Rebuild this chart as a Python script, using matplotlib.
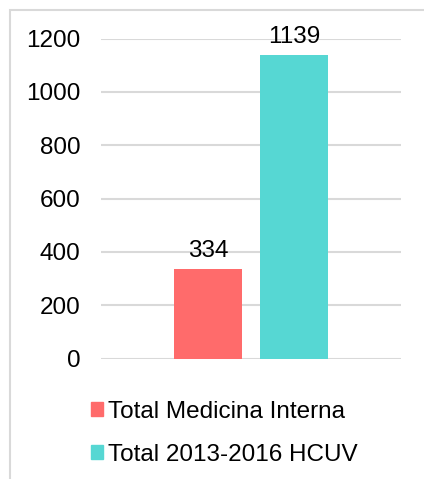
import matplotlib.pyplot as plt
from matplotlib.patches import Rectangle, Patch

plt.rcParams["font.family"] = ["Liberation Sans", "DejaVu Sans"]

SERIES = ["Total Medicina Interna", "Total 2013-2016 HCUV"]
VALUES = [334, 1139]
COLORS = ["#ff6b6b", "#56d7d3"]
YTICKS = [0, 200, 400, 600, 800, 1000, 1200]

W, H = 424, 479
FS = 17.5
fig = plt.figure(figsize=(W / 100, H / 100), dpi=100)

# light frame around the chart area (cut on right/bottom like the source)
fig.patches.append(Rectangle((9.5 / W, -0.05), 1.0, 1 - 9.5 / H + 0.05,
                             transform=fig.transFigure, fill=False,
                             edgecolor="#d9d9d9", linewidth=1.5))

ax = fig.add_axes([101 / W, 1 - 358.5 / H, 300 / W, 320 / H])
ax.set_xlim(-0.5, 0.5)
ax.set_ylim(0, 1200)

width = 68 / 300
offsets = [-0.1433, 0.1433]
for off, v, c, name in zip(offsets, VALUES, COLORS, SERIES):
    ax.bar(off, v, width=width, color=c, label=name, zorder=3)
    ax.annotate(str(v), (off, v), xytext=(0, 5), textcoords="offset points",
                ha="center", va="bottom", fontsize=FS, color="#000000",
                annotation_clip=False)

ax.set_yticks(YTICKS)
ax.set_xticks([])
ax.tick_params(axis="y", length=0, pad=15, labelsize=FS)
ax.yaxis.grid(True, color="#d9d9d9", linewidth=1.5, zorder=0)
for s in ax.spines.values():
    s.set_visible(False)

handles = [Patch(color=c, label=n) for c, n in zip(COLORS, SERIES)]
fig.legend(handles=handles, loc="upper left",
           bbox_to_anchor=(69 / W, 1 - 379 / H), frameon=False,
           fontsize=FS, handlelength=0.5, handleheight=0.5,
           handletextpad=0.2, labelspacing=0.85)

fig.savefig("out.png", dpi=100)
